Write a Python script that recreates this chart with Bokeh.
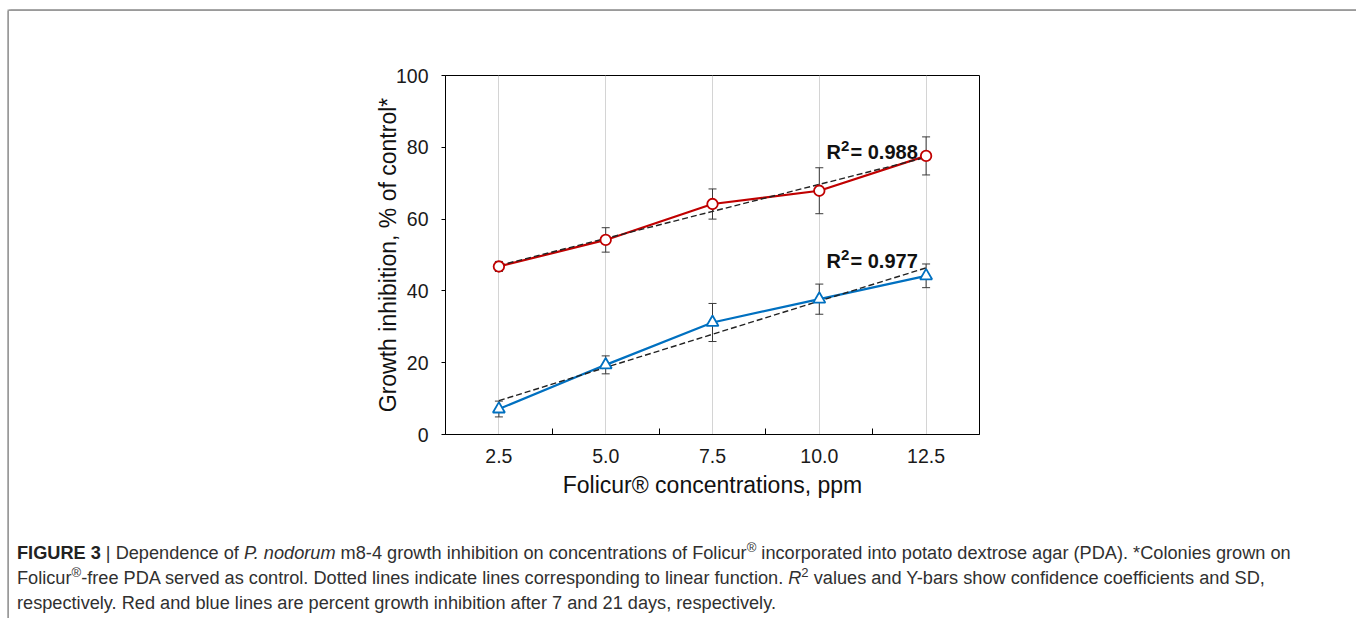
import numpy as np
from bokeh.plotting import figure
from bokeh.layouts import column
from bokeh.models import (ColumnDataSource, Whisker, TeeHead, FixedTicker,
                          NumeralTickFormatter, Label, Div)
from bokeh.embed import file_html
from bokeh.resources import INLINE

# ---------------- data ----------------
conc_ppm = [2.5, 5.0, 7.5, 10.0, 12.5]
inhib_7d = [46.8, 54.2, 64.2, 67.9, 77.6]
sd_7d = [1.4, 3.4, 4.2, 6.4, 5.3]
inhib_21d = [7.1, 19.4, 31.2, 37.7, 44.2]
sd_21d = [2.2, 2.5, 5.3, 4.2, 3.3]
r2_7d = "0.988"
r2_21d = "0.977"
y_ticks = [0, 20, 40, 60, 80, 100]

RED = "#C00000"
BLUE = "#0070C0"
FONT = "Liberation Sans"

# page layout
OX, OY = 9, 11            # column offset on the page
W_ALL = 1343
H_TOP = 509
H_CAP = 96
X0, X1 = 1.25, 13.75
FRAME_L, FRAME_R, FRAME_T, FRAME_B = 445, 979, 75, 434   # page px

p = figure(width=W_ALL, height=H_TOP, x_range=(X0, X1), y_range=(0, 100),
           output_backend="svg", toolbar_location=None,
           min_border_left=FRAME_L - OX, min_border_right=W_ALL - (FRAME_R - OX),
           min_border_top=FRAME_T - OY, min_border_bottom=H_TOP - (FRAME_B - OY))
p.background_fill_color = "white"
p.border_fill_color = "white"
p.outline_line_color = "black"
p.outline_line_width = 1
p.outline_line_alpha = 1

bounds = [(a + b) / 2 for a, b in zip(conc_ppm[:-1], conc_ppm[1:])]
xt = FixedTicker(ticks=conc_ppm, minor_ticks=bounds)
xa = p.xaxis[0]
xa.ticker = xt
xa.formatter = NumeralTickFormatter(format="0.0")
xa.major_tick_line_color = None
xa.major_tick_in = 0
xa.major_tick_out = 0
xa.minor_tick_in = 6
xa.minor_tick_out = 0
xa.minor_tick_line_color = "black"
xa.major_label_standoff = 14
xa.axis_line_color = "black"
xa.axis_label = "Folicur® concentrations, ppm"

ya = p.yaxis[0]
ya.ticker = FixedTicker(ticks=y_ticks)
ya.major_tick_in = 0
ya.major_tick_out = 4
ya.major_tick_line_color = "black"
ya.minor_tick_line_color = None
ya.major_label_standoff = 13
ya.axis_line_color = "black"
ya.axis_label = "Growth inhibition, % of control*"

for ax in (xa, ya):
    ax.major_label_text_font = FONT
    ax.major_label_text_font_size = "19.5px"
    ax.major_label_text_color = "#1a1a1a"
    ax.axis_label_text_font = FONT
    ax.axis_label_text_font_size = "23px"
    ax.axis_label_text_font_style = "normal"
    ax.axis_label_text_color = "#111111"
xa.axis_label_standoff = 6
ya.axis_label_standoff = -8

p.xgrid.ticker = xt
p.xgrid.grid_line_color = "#d4d4d4"
p.xgrid.grid_line_width = 1
p.ygrid.visible = False

# ------------- series -------------
x = np.array(conc_ppm)
series = [(inhib_7d, sd_7d, RED, "circle", 10.5),
          (inhib_21d, sd_21d, BLUE, "triangle", 12)]
for vals, sds, col, mk, sz in series:
    v = np.array(vals)
    s = np.array(sds)
    src = ColumnDataSource(dict(x=x, y=v, up=v + s, lo=v - s))
    p.line("x", "y", source=src, line_color=col, line_width=2.2)
    k, b = np.polyfit(x, v, 1)
    p.line(x, k * x + b, line_color="#222222", line_width=1.4, line_dash="6 3")
    w = Whisker(base="x", upper="up", lower="lo", source=src,
                line_color="#3a3a3a", line_width=1,
                upper_head=TeeHead(size=8, line_color="#3a3a3a", line_width=1),
                lower_head=TeeHead(size=8, line_color="#3a3a3a", line_width=1))
    p.add_layout(w)
    p.scatter("x", "y", source=src, marker=mk, size=sz, fill_color="white",
              line_color=col, line_width=1.8)

# ------------- R² labels (placed by page pixel) -------------
DXP = (X1 - X0) / (FRAME_R - FRAME_L)
DYP = 100.0 / (FRAME_B - FRAME_T)


def dx(px):
    return X0 + (px - FRAME_L) * DXP


def dy(py):
    return (FRAME_B - py) * DYP


def r2_label(px, base_py, txt):
    for t, off, yo, fsz in (("R", 0, 0, "20px"), ("2", 14.5, 6, "15px"),
                            ("= " + txt, 24, 0, "20px")):
        p.add_layout(Label(x=dx(px + off), y=dy(base_py - yo), text=t,
                           text_font=FONT, text_font_size=fsz,
                           text_font_style="bold", text_color="#111111",
                           text_baseline="alphabetic"))


r2_label(826, 151, r2_7d)
r2_label(826, 260, r2_21d)

# ------------- caption -------------
Wd = {' ': 278, '(': 333, ')': 333, '*': 389, ',': 278, '-': 333, '.': 278, '|': 260,
      '®': 737, 'A': 667, 'C': 722, 'D': 722, 'E': 667, 'F': 611, 'G': 778, 'I': 278,
      'P': 667, 'R': 722, 'S': 667, 'U': 722, 'Y': 667,
      'a': 556, 'b': 556, 'c': 500, 'd': 556, 'e': 556, 'f': 278, 'g': 556, 'h': 556,
      'i': 222, 'j': 222, 'k': 500, 'l': 222, 'm': 833, 'n': 556, 'o': 556, 'p': 556,
      'q': 556, 'r': 333, 's': 500, 't': 278, 'u': 556, 'v': 500, 'w': 722, 'x': 500,
      'y': 500, 'z': 500}

caption_line1 = ("FIGURE 3 | Dependence of P. nodorum m8-4 growth inhibition on concentrations "
                 "of Folicur® incorporated into potato dextrose agar (PDA). *Colonies grown on")
em1 = sum(Wd.get(c, 556) for c in caption_line1) / 1000.0
CAP_FS = 1280.0 / em1

caption_html = (
    '<div style="padding:16px 0 0 3px; white-space:nowrap; color:#303030; '
    f'font-family:\'{FONT}\'; font-size:{CAP_FS:.2f}px; line-height:25px;">'
    '<b style="color:#222">FIGURE 3</b> | Dependence of <i>P. nodorum</i> m8-4 growth inhibition '
    'on concentrations of Folicur<sup style="font-size:72%;line-height:0">®</sup> incorporated '
    'into potato dextrose agar (PDA). *Colonies grown on<br>'
    'Folicur<sup style="font-size:72%;line-height:0">®</sup>-free PDA served as control. '
    'Dotted lines indicate lines corresponding to linear function. '
    '<i>R</i><sup style="font-size:72%;line-height:0">2</sup> values and Y-bars show confidence '
    'coefficients and SD,<br>'
    'respectively. Red and blue lines are percent growth inhibition after 7 and 21 days, '
    'respectively.</div>'
)
cap = Div(text=caption_html, width=W_ALL, height=H_CAP)

border = "#9a9a9a"
layout = column(p, cap, margin=(OY, 0, 0, OX),
                styles={"box-shadow": f"-1.5px 0 0 0 {border}, 1.5px 0 0 0 {border}, "
                                      f"0 -1.5px 0 0 {border}, -1.5px -1.5px 0 0 {border}, "
                                      f"1.5px -1.5px 0 0 {border}"})

open("out.html", "w").write(file_html(layout, INLINE))
